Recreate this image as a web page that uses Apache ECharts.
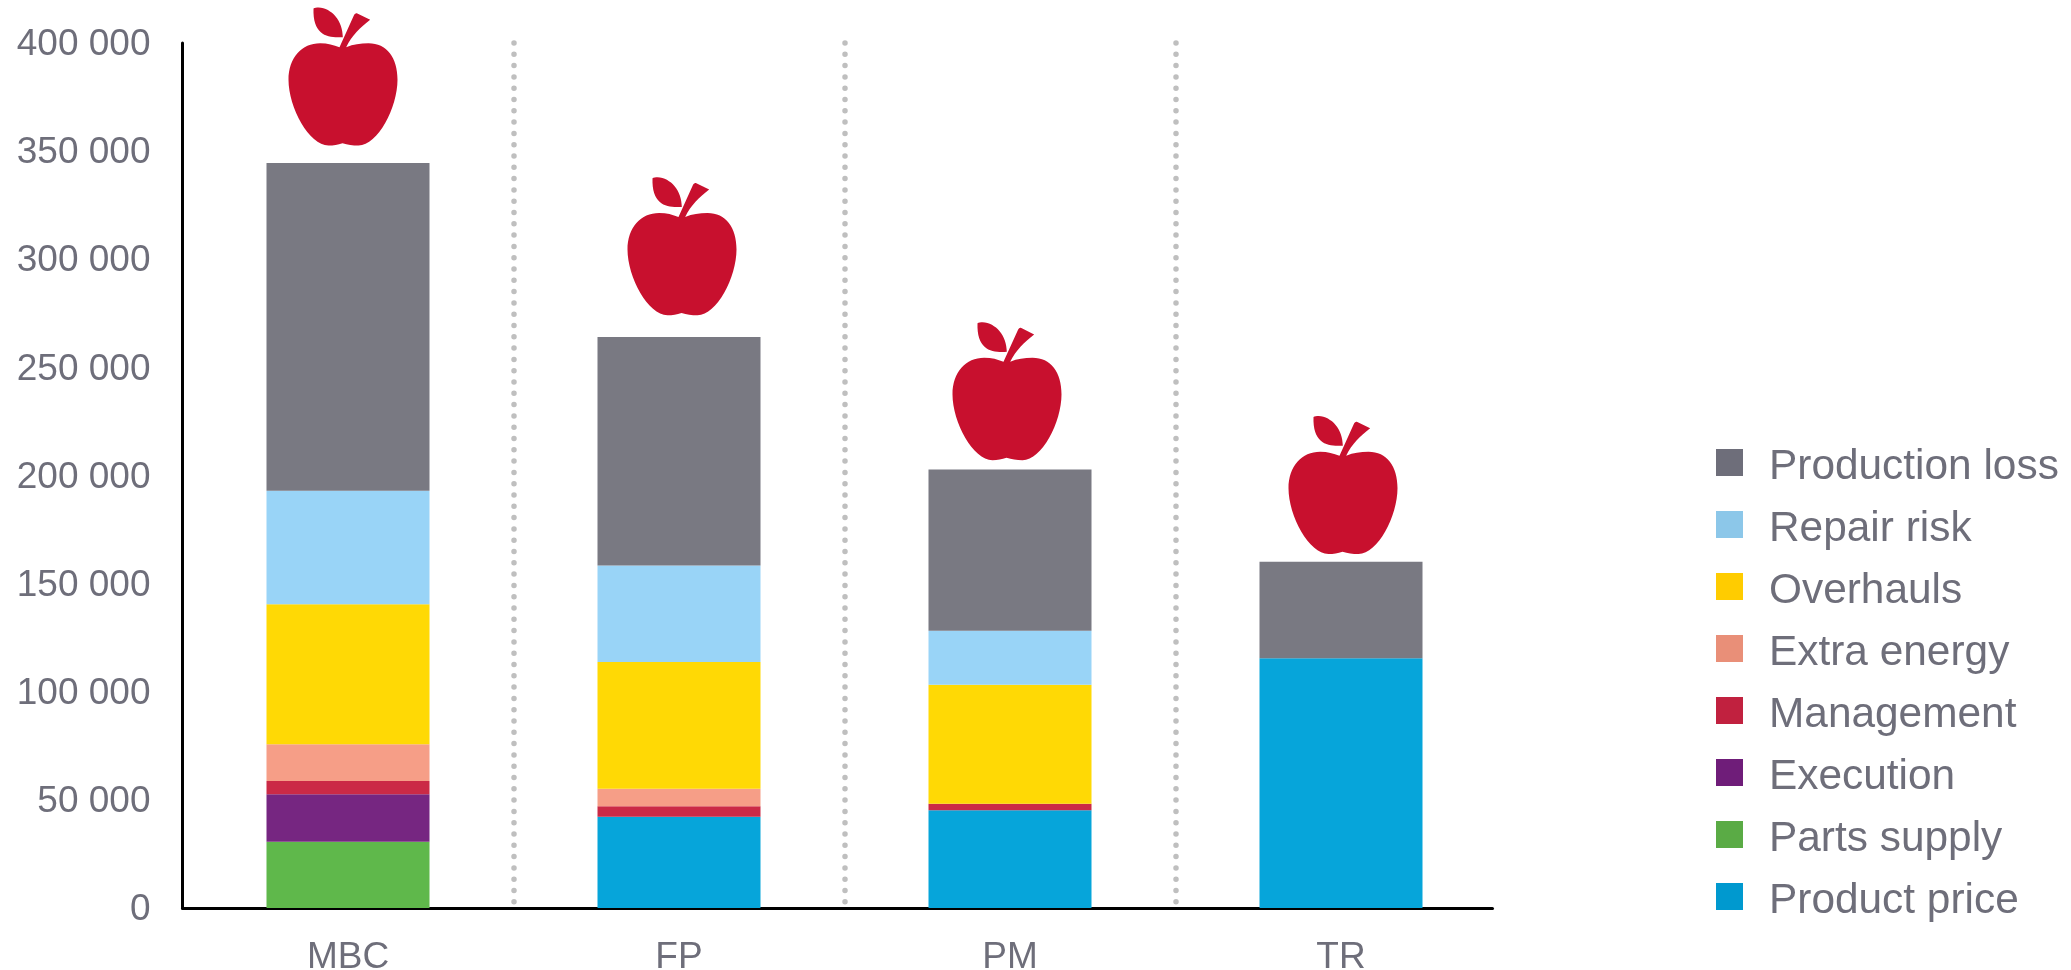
<!DOCTYPE html>
<html>
<head>
<meta charset="utf-8">
<title>Cost stack</title>
<script src="https://cdn.jsdelivr.net/npm/echarts@6/dist/echarts.min.js"></script>
<style>
  html, body { margin: 0; padding: 0; background: #fff; }
  #chart { width: 2071px; height: 970px; }
</style>
</head>
<body>
<div id="chart"></div>
<script>
// bottom to top, same order as the stack
const categories = ['MBC', 'FP', 'PM', 'TR'];
const productPrice = [0, 42200, 45200, 115500];
const partsSupply = [30600, 0, 0, 0];
const execution = [22000, 0, 0, 0];
const management = [6100, 4900, 3000, 0];
const extraEnergy = [17000, 8000, 0, 0];
const overhauls = [64800, 58700, 55000, 0];
const repairRisk = [52500, 44600, 25000, 0];
const productionLoss = [151500, 105700, 74600, 44600];
// apples sit at their own height
const appleHeights = [384500, 306000, 239000, 195600];
const appleShift = [-5, 3, -3, 2];

const fontFamily = '"Liberation Sans", Arial, sans-serif';
const textColor = '#6e6e7a';
const applePath = 'path://M153 119 L197 22 Q200 16 205 17 L245 37 C215 60 190 85 173 119 C195 110 215 107 240 107 C295 107 327 150 327 217 C327 300 268 414 210 414 C192 414 178 412 162 407 C148 412 135 414 120 414 C62 414 0 300 0 217 C0 150 40 107 95 107 C118 107 135 112 153 119 Z M75 3 C78 0 85 0 90 0 C130 2 163 40 163 89 C120 92 72 85 75 3 Z';

// the bars are slightly brighter than their legend swatches in the original
const stack = [
  { name: 'Product price', data: productPrice, color: '#06a5da', swatch: '#0099cf' },
  { name: 'Parts supply', data: partsSupply, color: '#5fb84b', swatch: '#5aab45' },
  { name: 'Execution', data: execution, color: '#762681', swatch: '#6f1d79' },
  { name: 'Management', data: management, color: '#cb2a46', swatch: '#c1213f' },
  { name: 'Extra energy', data: extraEnergy, color: '#f69e87', swatch: '#e98f78' },
  { name: 'Overhauls', data: overhauls, color: '#ffd905', swatch: '#ffcc00' },
  { name: 'Repair risk', data: repairRisk, color: '#99d4f7', swatch: '#8cc7e9' },
  { name: 'Production loss', data: productionLoss, color: '#797982', swatch: '#6e6e7a' }
];

let myChart = echarts.init(document.getElementById('chart'), null, { renderer: 'canvas' });

const barSeries = stack.map(function (s) {
  return {
    name: s.name,
    type: 'bar',
    stack: 'total',
    barWidth: 163,
    xAxisIndex: 0,
    yAxisIndex: 0,
    itemStyle: { color: s.color },
    data: s.data
  };
});

myChart.setOption({
  animation: false,
  backgroundColor: '#fff',
  grid: [
    { left: 182.5, top: 43, width: 1324, height: 865, outerBoundsMode: 'none' },
    // second grid only carries the baseline, it stops short of the last band
    { left: 182.5, top: 43, width: 1310, height: 865, outerBoundsMode: 'none' }
  ],
  legend: {
    left: 1716,
    top: 437,
    orient: 'vertical',
    icon: 'rect',
    itemWidth: 27,
    itemHeight: 27,
    itemGap: 11,
    padding: 0,
    selectedMode: false,
    formatter: '{t|{name}}',
    textStyle: {
      rich: {
        t: {
          fontFamily: fontFamily,
          fontSize: 42.4,
          lineHeight: 42,
          color: textColor,
          padding: [9, 0, 0, 21]
        }
      }
    },
    data: stack.slice().reverse().map(function (s) {
      return { name: s.name, itemStyle: { color: s.swatch } };
    })
  },
  xAxis: [
    {
      type: 'category',
      gridIndex: 0,
      data: categories,
      axisLine: { show: false },
      axisTick: { show: false },
      axisLabel: {
        fontFamily: fontFamily,
        fontSize: 37,
        color: textColor,
        margin: 31
      },
      splitLine: {
        show: true,
        showMinLine: false,
        showMaxLine: false,
        lineStyle: { color: '#bfbfbf', width: 5.5, cap: 'round', type: [0, 11.3] }
      }
    },
    {
      type: 'value',
      gridIndex: 1,
      min: 0,
      max: 1,
      axisLine: { show: true, onZero: false, lineStyle: { color: '#000', width: 3 } },
      axisTick: { show: false },
      axisLabel: { show: false },
      splitLine: { show: false }
    }
  ],
  yAxis: [
    {
      type: 'value',
      gridIndex: 0,
      min: 0,
      max: 400000,
      interval: 50000,
      axisLine: { show: true, lineStyle: { color: '#000', width: 3 } },
      axisTick: { show: false },
      splitLine: { show: false },
      axisLabel: {
        margin: 32,
        formatter: function (value) {
          return '{v|' + String(value).replace(/\B(?=(\d{3})+$)/g, ' ') + '}';
        },
        rich: {
          v: {
            fontFamily: fontFamily,
            fontSize: 37,
            color: textColor,
            padding: [4, 0, 0, 0]
          }
        }
      }
    },
    { type: 'value', gridIndex: 1, show: false, min: 0, max: 1 }
  ],
  series: barSeries.concat([
    {
      name: 'Apple',
      type: 'scatter',
      xAxisIndex: 0,
      yAxisIndex: 0,
      symbol: applePath,
      symbolSize: [109, 138],
      itemStyle: { color: '#c8102e', opacity: 1 },
      clip: false,
      z: 5,
      data: appleHeights.map(function (v, i) {
        return { value: [categories[i], v], symbolOffset: [appleShift[i], 0] };
      })
    }
  ])
});
</script>
</body>
</html>
